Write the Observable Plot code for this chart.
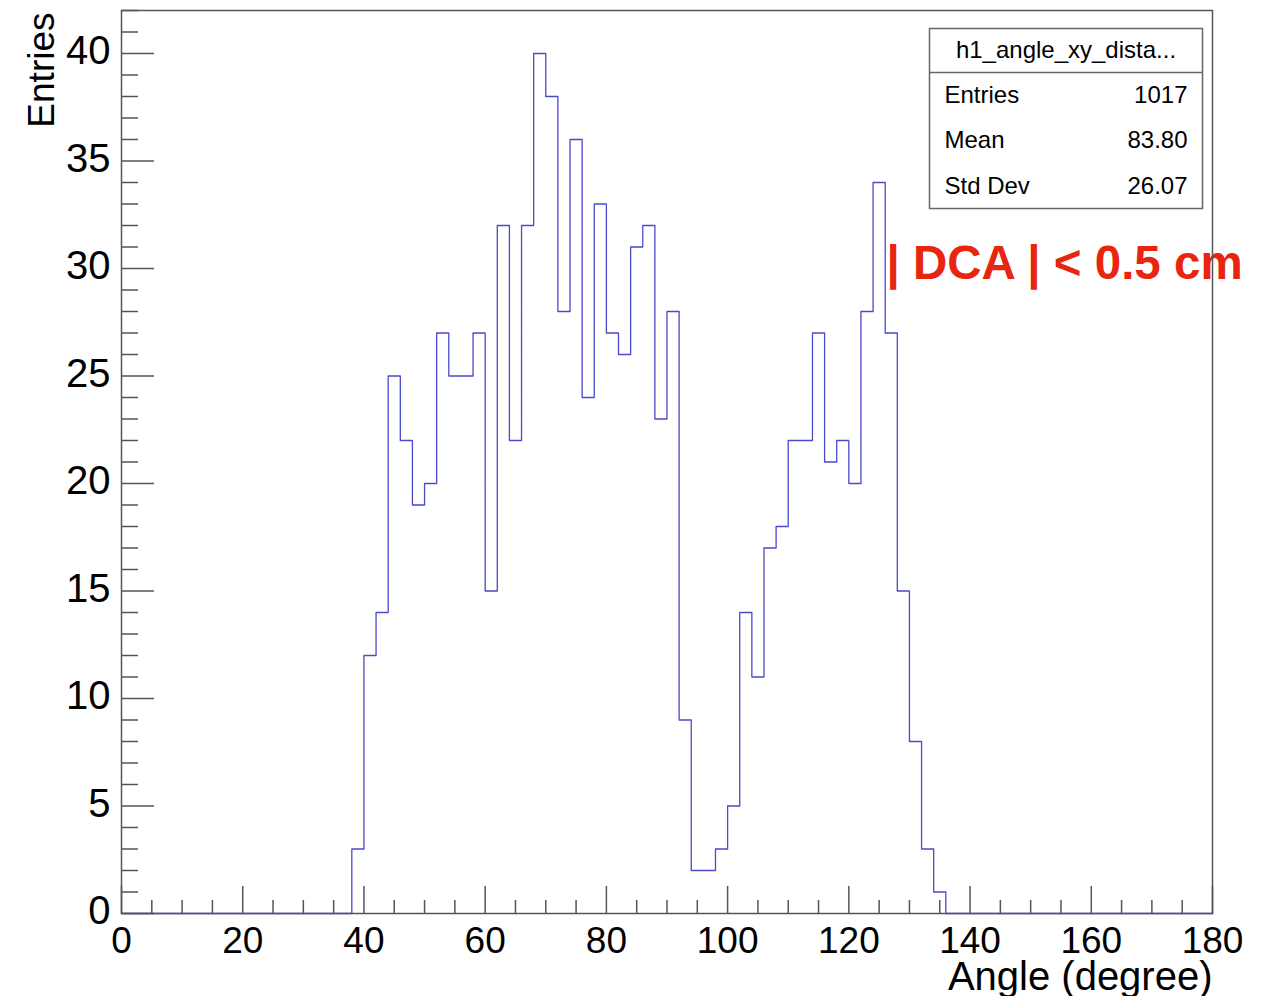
<!DOCTYPE html>
<html>
<head>
<meta charset="utf-8">
<script src="https://cdn.jsdelivr.net/npm/d3@7"></script>
<script src="https://cdn.jsdelivr.net/npm/@observablehq/plot@0.6"></script>
<style>
  html, body { margin: 0; padding: 0; background: #fff; }
  #chart { width: 1278px; height: 996px; }
</style>
</head>
<body>
<div id="chart"></div>
<script>
// Histogram of the xy opening angle, 2-degree bins (lower edges listed).
const binLow = [38, 40, 42, 44, 46, 48, 50, 52, 54, 56, 58, 60, 62, 64, 66, 68, 70, 72, 74, 76,
                78, 80, 82, 84, 86, 88, 90, 92, 94, 96, 98, 100, 102, 104, 106, 108, 110, 112,
                114, 116, 118, 120, 122, 124, 126, 128, 130, 132, 134];
const counts = [3, 12, 14, 25, 22, 19, 20, 27, 25, 25, 27, 15, 32, 22, 32, 40, 38, 28, 36, 24,
                33, 27, 26, 31, 32, 23, 28, 9, 2, 2, 3, 5, 14, 11, 17, 18, 22, 22,
                27, 21, 22, 20, 28, 34, 27, 15, 8, 3, 1];
const binWidth = 2;
const histRange = [0, 180];

// Axis ticks
const xMajorTicks = [0, 20, 40, 60, 80, 100, 120, 140, 160, 180];
const yMajorTicks = [0, 5, 10, 15, 20, 25, 30, 35, 40];
const xMinorTicks = d3.range(0, 181, 5).filter(v => v % 20 !== 0);
const yMinorTicks = d3.range(0, 43, 1).filter(v => v % 5 !== 0);

// Statistics box
const histName = "h1_angle_xy_dista...";
const statLabels = ["Entries", "Mean", "Std Dev"];
const statValues = ["1017", "83.80", "26.07"];
const cutLabel = "| DCA | < 0.5 cm";

// Outline points: empty range, each bin's content, then empty range again
const outline = [{a: histRange[0], n: 0}]
  .concat(binLow.map((a, i) => ({a, n: counts[i]})))
  .concat([{a: binLow[binLow.length - 1] + binWidth, n: 0}, {a: histRange[1], n: 0}]);

const W = 1278, H = 996;
const mL = 121, mR = 66, mT = 10, mB = 83;
const innerW = W - mL - mR, innerH = H - mT - mB;
const axisColor = "#555";
const font = "'Liberation Sans', Arial, Helvetica, sans-serif";

const plot = Plot.plot({
  width: W,
  height: H,
  marginLeft: mL,
  marginRight: mR,
  marginTop: mT,
  marginBottom: mB,
  style: {fontFamily: font, background: "white", color: "black"},
  x: {domain: histRange},
  y: {domain: [0, 42]},
  marks: [
    Plot.line(outline, {x: "a", y: "n", curve: "step-after", stroke: "#4a4acb", strokeWidth: 1.3}),
    // ticks drawn inside the frame
    Plot.tickX(xMajorTicks, {x: d => d, insetTop: innerH - 27, stroke: axisColor, strokeWidth: 1.5}),
    Plot.tickX(xMinorTicks, {x: d => d, insetTop: innerH - 13, stroke: axisColor, strokeWidth: 1.5}),
    Plot.tickY(yMajorTicks, {y: d => d, insetRight: innerW - 33, stroke: axisColor, strokeWidth: 1.5}),
    Plot.tickY(yMinorTicks, {y: d => d, insetRight: innerW - 17, stroke: axisColor, strokeWidth: 1.5}),
    Plot.axisX({ticks: xMajorTicks, tickSize: 0, tickPadding: 13, fontSize: 37, label: null, tickFormat: d => String(d)}),
    Plot.axisY({ticks: yMajorTicks, tickSize: 0, tickPadding: 11, fontSize: 40, dy: -2, label: null, tickFormat: d => String(d)}),
    Plot.text(["Entries"], {frameAnchor: "top-left", dx: -68, dy: 2, rotate: -90,
      textAnchor: "end", lineAnchor: "bottom", fontSize: 37, fill: "black"}),
    Plot.text(["Angle (degree)"], {frameAnchor: "bottom-right", dx: 0, dy: 76,
      textAnchor: "end", lineAnchor: "bottom", fontSize: 40, fill: "black"}),
    Plot.text([cutLabel], {frameAnchor: "top-right", dx: -326, dy: 268,
      textAnchor: "start", lineAnchor: "bottom", fontSize: 47.5, fontWeight: "bold", fill: "#e8250f"}),
    Plot.frame({stroke: axisColor, strokeWidth: 1.5})
  ]
});

document.getElementById("chart").appendChild(plot);

// Statistics box in the upper right corner
const svg = d3.select(plot);
const box = {x: 929.5, y: 28.5, w: 273, h: 180, head: 44};
const g = svg.append("g")
  .attr("font-family", font).attr("font-size", 24).attr("fill", "black")
  .attr("text-anchor", "start");
g.append("rect")
  .attr("x", box.x).attr("y", box.y).attr("width", box.w).attr("height", box.h)
  .attr("fill", "white").attr("stroke", "#666").attr("stroke-width", 1.5);
g.append("line")
  .attr("x1", box.x).attr("x2", box.x + box.w)
  .attr("y1", box.y + box.head).attr("y2", box.y + box.head)
  .attr("stroke", "#666").attr("stroke-width", 1.5);
g.append("text")
  .attr("x", box.x + box.w / 2).attr("y", box.y + 29)
  .attr("text-anchor", "middle").text(histName);
statLabels.forEach((lab, i) => {
  const yb = box.y + 74 + i * 45.5;
  g.append("text").attr("x", box.x + 15).attr("y", yb)
    .attr("text-anchor", "start").text(lab);
  g.append("text").attr("x", box.x + box.w - 15).attr("y", yb)
    .attr("text-anchor", "end").text(statValues[i]);
});
</script>
</body>
</html>
